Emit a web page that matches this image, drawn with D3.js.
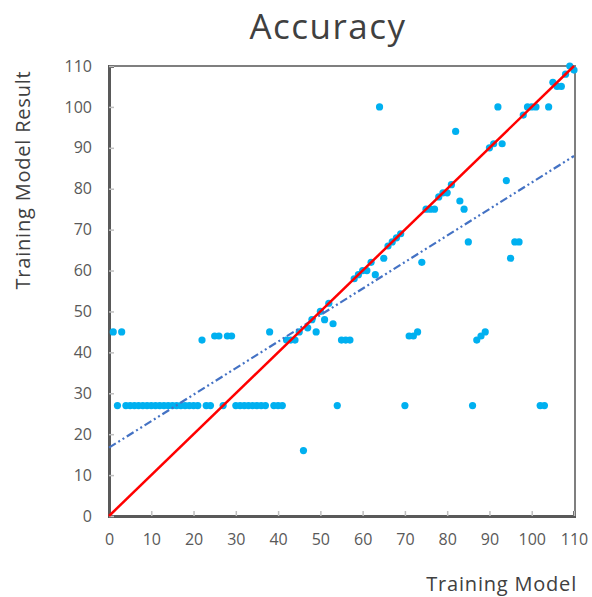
<!DOCTYPE html>
<html>
<head>
<meta charset="utf-8">
<script src="https://cdn.jsdelivr.net/npm/d3@7"></script>
<style>
  body { margin: 0; background: #fff; }
</style>
</head>
<body>
<div id="chart"></div>
<script>
// data
var xTicks = [0, 10, 20, 30, 40, 50, 60, 70, 80, 90, 100, 110];
var yTicks = [0, 10, 20, 30, 40, 50, 60, 70, 80, 90, 100, 110];

var pointX = [2,4,5,6,7,8,9,10,11,12,13,14,15,16,17,18,19,20,21,23,24,27,30,31,32,33,34,35,36,37,39,40,41,54,70,86,102,103,
  1,3,22,25,26,28,29,38,42,43,44,46,45,47,48,49,50,51,52,53,55,56,57,58,59,60,61,62,63,64,65,66,67,68,69,
  71,72,73,74,75,76,77,78,79,80,81,82,83,84,85,87,88,89,90,91,92,93,94,95,96,97,98,99,100,101,104,105,106,107,108,109,110];
var pointY = [27,27,27,27,27,27,27,27,27,27,27,27,27,27,27,27,27,27,27,27,27,27,27,27,27,27,27,27,27,27,27,27,27,27,27,27,27,27,
  45,45,43,44,44,44,44,45,43,43,43,16,45,46,48,45,50,48,52,47,43,43,43,58,59,60,60,62,59,100,63,66,67,68,69,
  44,44,45,62,75,75,75,78,79,79,81,94,77,75,67,43,44,45,90,91,100,91,82,63,67,67,98,100,100,100,100,106,105,105,108,110,109];

var identityX = [0, 110];
var identityY = [0, 110];
var trendX = [0, 110];
var trendY = [16.7, 88.0];

var W = 592, H = 597;
var plotL = 109, plotR = 574, plotT = 66, plotB = 516;
var font = "'Open Sans', sans-serif";

var svg = d3.select("#chart").append("svg").attr("width", W).attr("height", H);

var x = d3.scaleLinear().domain([0, 110]).range([plotL, plotR]);
var y = d3.scaleLinear().domain([0, 110]).range([plotB, plotT]);

// frame
svg.append("rect").attr("x", plotL).attr("y", plotT).attr("width", plotR - plotL + 1).attr("height", plotB - plotT)
  .style("fill", "none").style("stroke", "#7f7f7f").style("stroke-width", 2);

var gx = svg.append("g").attr("transform", "translate(0," + plotB + ")")
  .call(d3.axisBottom(x).tickValues(xTicks).tickSize(-5).tickPadding(18));
var gy = svg.append("g").attr("transform", "translate(" + plotL + ",0)")
  .call(d3.axisLeft(y).tickValues(yTicks).tickSize(-5).tickPadding(17));

[gx, gy].forEach(function(g){
  g.select(".domain").style("stroke", "#595959").style("stroke-width", 3);
  g.selectAll(".tick line").style("stroke", "#bfbfbf").style("stroke-width", 1.5);
  g.selectAll(".tick text").style("fill", "#595959").style("font-family", font).style("font-size", "16px");
});

// points
var pts = pointX.map(function(d, i){ return [d, pointY[i]]; });
svg.append("g").selectAll("circle").data(pts).enter().append("circle")
  .attr("cx", function(d){ return x(d[0]); })
  .attr("cy", function(d){ return y(d[1]); })
  .attr("r", 3.6)
  .style("fill", "#00b0f0");

var line = d3.line().x(function(d){ return x(d[0]); }).y(function(d){ return y(d[1]); });

svg.append("path").datum(trendX.map(function(d, i){ return [d, trendY[i]]; }))
  .attr("d", line)
  .style("fill", "none").style("stroke", "#4472c4").style("stroke-width", 2.2)
  .style("stroke-dasharray", "8,3,2,3,2,3");

svg.append("path").datum(identityX.map(function(d, i){ return [d, identityY[i]]; }))
  .attr("d", line)
  .style("fill", "none").style("stroke", "#ff0000").style("stroke-width", 2.5);

// titles
svg.append("text").text("Accuracy")
  .attr("x", 328).attr("y", 39).attr("text-anchor", "middle")
  .style("fill", "#404040").style("font-family", font).style("font-size", "35px")
  .style("letter-spacing", "1.5px");

svg.append("text").text("Training Model Result")
  .attr("transform", "translate(30,180) rotate(-90)").attr("text-anchor", "middle")
  .style("fill", "#404040").style("font-family", font).style("font-size", "20px")
  .style("letter-spacing", "0.8px");

svg.append("text").text("Training Model")
  .attr("x", 577).attr("y", 591).attr("text-anchor", "end")
  .style("fill", "#404040").style("font-family", font).style("font-size", "20px")
  .style("letter-spacing", "0.8px");
</script>
</body>
</html>
